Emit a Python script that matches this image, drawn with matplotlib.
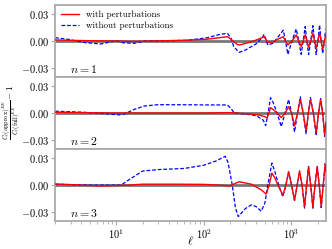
import matplotlib
matplotlib.use("Agg")
import matplotlib.pyplot as plt
from matplotlib.ticker import FixedLocator, FixedFormatter

plt.rcParams['mathtext.fontset'] = 'cm'
plt.rcParams['font.family'] = 'serif'
plt.rcParams['font.serif'] = ['cmr10', 'DejaVu Serif']
plt.rcParams['axes.formatter.use_mathtext'] = True

# panel n = 1
ell_b1 = [2, 2.8, 3.5, 4.5, 6.7, 8.8, 10, 11.9, 16, 21, 40, 65, 110, 154, 187, 205, 220,
          253, 300, 400, 474, 490, 540, 617, 700, 811, 860, 916, 1020, 1140, 1220, 1300,
          1370, 1445, 1510, 1580, 1670, 1770, 1850, 1930, 2020, 2110, 2200, 2290, 2400, 2500]
val_b1 = [0.0037, 0.0019, 0.0, -0.0019, -0.0033, -0.0007, 0.0004, -0.0019, -0.0026, 0.0,
          0.0003, 0.0008, 0.0037, 0.0074, 0.0085, 0.003, -0.006, -0.0126, -0.010, -0.003,
          0.0048, 0.0074, -0.0044, -0.0026, 0.004, 0.012, 0.0, -0.0148, 0.0, 0.0133, 0.0,
          -0.0148, 0.0, 0.016, 0.0, -0.015, 0.0, 0.017, 0.0, -0.015, 0.0, 0.0178, 0.0,
          -0.0137, 0.0, 0.0178]
ell_r1 = [2, 5, 10, 16, 25, 60, 110, 154, 187, 205, 240, 255, 350, 474, 490, 540, 620, 700,
          811, 860, 916, 1020, 1140, 1220, 1300, 1370, 1445, 1510, 1580, 1670, 1770, 1850,
          1930, 2020, 2110, 2200, 2290, 2400, 2500]
val_r1 = [0.0012, 0.0003, 0.0, -0.0005, 0.0, 0.0008, 0.002, 0.0038, 0.0048, 0.002, -0.0037,
          -0.0044, -0.001, 0.004, 0.0048, -0.0015, -0.001, 0.002, 0.0048, 0.0, -0.0044, 0.0,
          0.0067, 0.0, -0.006, 0.0, 0.007, 0.0, -0.0067, 0.0, 0.0085, 0.0, -0.008, 0.0,
          0.009, 0.0, -0.009, 0.0, 0.0085]

# panel n = 2
ell_b2 = [2, 4, 6, 10.8, 12.4, 16, 21, 30, 60, 120, 187, 205, 224, 300, 400, 480, 510, 545,
          580, 620, 690, 769, 850, 933, 1010, 1091, 1180, 1270, 1370, 1480, 1570, 1660, 1790,
          1930, 2050, 2170, 2290, 2410, 2500]
val_b2 = [0.002, 0.001, 0.0, -0.002, -0.001, 0.004, 0.0078, 0.0093, 0.0092, 0.009, 0.009,
          0.005, 0.0, -0.001, -0.003, -0.008, -0.014, 0.0, 0.017, 0.012, 0.0, -0.015, 0.0,
          0.015, 0.0, -0.021, 0.0, 0.018, 0.0, -0.023, 0.0, 0.017, 0.0, -0.025, 0.0, 0.016,
          0.0, -0.026, -0.01]
ell_r2 = [2, 5, 10, 100, 200, 300, 420, 500, 530, 555, 580, 620, 690, 769, 850, 933, 1010,
          1091, 1180, 1270, 1370, 1480, 1570, 1660, 1790, 1930, 2050, 2170, 2290, 2410, 2500]
val_r2 = [0.001, 0.0003, 0.0, 0.0, 0.0005, -0.0008, -0.002, -0.004, -0.0056, 0.0, 0.006,
          0.004, 0.0, -0.005, 0.0, 0.007, 0.0, -0.014, 0.0, 0.015, 0.0, -0.02, 0.0, 0.015,
          0.0, -0.022, 0.0, 0.015, 0.0, -0.024, -0.01]

# panel n = 3
ell_b3 = [2, 5, 11.4, 14, 20, 30, 60, 100, 140, 176, 190, 212, 230, 248, 300, 349, 400, 454,
          500, 540, 601, 650, 720, 802, 870, 933, 1010, 1091, 1170, 1245, 1330, 1420, 1500,
          1578, 1670, 1770, 1870, 1983, 2090, 2203, 2320, 2447, 2500]
val_b3 = [0.001, 0.0, 0.0, 0.006, 0.0156, 0.0172, 0.0185, 0.022, 0.027, 0.032, 0.025, 0.0,
          -0.025, -0.035, -0.026, -0.022, -0.024, -0.029, -0.02, 0.0, 0.0244, 0.015, 0.0,
          -0.013, 0.0, 0.0144, 0.0, -0.017, 0.0, 0.0133, 0.0, -0.0256, 0.0, 0.0207, 0.0,
          -0.0256, 0.0, 0.0207, 0.0, -0.025, 0.0, 0.024, 0.015]
ell_r3 = [2, 4, 6.2, 10, 14, 20, 50, 100, 150, 200, 230, 255, 350, 450, 518, 560, 601, 650,
          720, 802, 870, 933, 1010, 1091, 1170, 1245, 1330, 1420, 1500, 1578, 1670, 1770,
          1870, 1983, 2090, 2203, 2320, 2447, 2500]
val_r3 = [0.0012, 0.0, -0.001, -0.0005, 0.0, 0.001, 0.001, 0.0008, 0.0, -0.001, 0.002,
          0.0037, 0.001, -0.005, -0.010, 0.0, 0.0133, 0.008, -0.002, -0.011, 0.0, 0.015, 0.0,
          -0.017, 0.0, 0.016, 0.0, -0.024, 0.0, 0.02, 0.0, -0.025, 0.0, 0.02, 0.0, -0.024,
          0.0, 0.023, 0.015]

panels = [
    (ell_r1, val_r1, ell_b1, val_b1, '$n = 1$'),
    (ell_r2, val_r2, ell_b2, val_b2, '$n = 2$'),
    (ell_r3, val_r3, ell_b3, val_b3, '$n = 3$'),
]

fig, axes = plt.subplots(3, 1, figsize=(3.32, 2.49), dpi=100, sharex=True)
fig.subplots_adjust(left=0.166, right=0.982, top=0.98, bottom=0.112, hspace=0)

spine_col = '#aaaaaa'
for i, (ax, (er, vr, eb, vb, lab)) in enumerate(zip(axes, panels)):
    ax.axhline(0, color='#777777', lw=2.0, zorder=1)
    ax.plot(er, vr, color='red', lw=1.0, label='with perturbations', zorder=3)
    ax.plot(eb, vb, color='blue', lw=0.9, ls=(0, (3, 1.5)), label='without perturbations',
            zorder=2)
    ax.set_xscale('log')
    ax.set_xlim(2, 2500)
    ax.set_ylim(-0.04, 0.04)
    ax.yaxis.set_major_locator(FixedLocator([-0.03, 0.0, 0.03]))
    ax.yaxis.set_major_formatter(FixedFormatter(['$-0.03$', '$0.00$', '$0.03$']))
    ax.tick_params(labelsize=7.5, color=spine_col, width=0.8, length=3, pad=1.5)
    ax.tick_params(which='minor', color=spine_col, width=0.6, length=1.8)
    for s in ax.spines.values():
        s.set_color(spine_col)
        s.set_linewidth(1.3)
    ax.text(0.055, 0.11, lab, transform=ax.transAxes, fontsize=8.5, va='center')
    if i == 0:
        ax.legend(loc='upper left', frameon=False, fontsize=6.5, handlelength=2.0,
                  borderaxespad=0.2, labelspacing=0.35)

axes[-1].set_xlabel(r'$\ell$', fontsize=8.5, va='center')
axes[-1].xaxis.set_label_coords(0.5, -0.27)
fig.text(0.038, 0.55,
         r'$\frac{C_\ell(\mathrm{approx})^{EE}}{C_\ell(\mathrm{full})^{EE}}-1$',
         rotation=90, fontsize=6.5, ha='center', va='center')

fig.savefig('out.png', dpi=100)
